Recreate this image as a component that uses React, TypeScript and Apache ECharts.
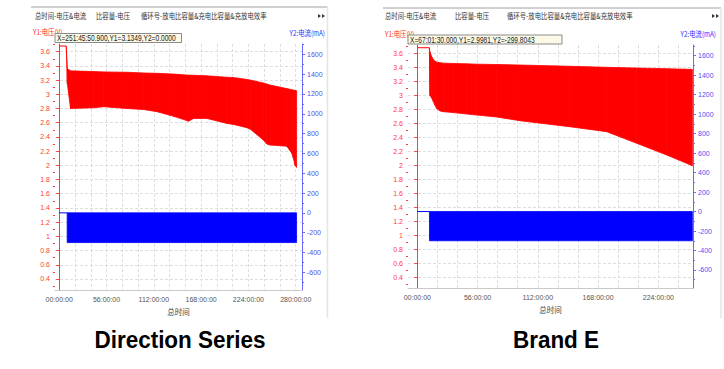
import React, { useEffect, useRef } from 'react';
import * as echarts from 'echarts';

// ---------- texts ----------
const TAB_LABELS = ['总时间-电压&电流', '比容量-电压', '循环号-放电比容量&充电比容量&充放电效率'];
const Y1_NAME = 'Y1:电压(V)';
const Y2_NAME = 'Y2:电流(mA)';
const X_NAME = '总时间';
const CAPTIONS = ['Direction Series', 'Brand E'];
const CURSOR_TEXTS = ['X=251:45:50.900,Y1=3.1349,Y2=0.0000', 'X=67:01:30.000,Y1=2.9981,Y2=-299.8043'];

// ---------- ticks ----------
const Y1_TICKS = [0.4, 0.6, 0.8, 1, 1.2, 1.4, 1.6, 1.8, 2, 2.2, 2.4, 2.6, 2.8, 3, 3.2, 3.4, 3.6];
const Y1_MINOR = [0.3, 0.5, 0.7, 0.9, 1.1, 1.3, 1.5, 1.7, 1.9, 2.1, 2.3, 2.5, 2.7, 2.9, 3.1, 3.3, 3.5, 3.7];
const Y2_TICKS = [-600, -400, -200, 0, 200, 400, 600, 800, 1000, 1200, 1400, 1600];
const Y2_MINOR = [-700, -500, -300, -100, 100, 300, 500, 700, 900, 1100, 1300, 1500, 1700];
const X_TICKS_A = [0, 56, 112, 168, 224, 280]; // hours
const X_TICKS_B = [0, 56, 112, 168, 224];
const X_GRID_STEP = 56 / 3;

// ---------- Direction Series (hours, V, mA) ----------
const A_REST_T = [0, 8.3];
const A_REST_V = [3.68, 3.68];
const A_T = [8.3, 9.6, 13.4, 40.9, 52.7, 80.3, 100, 115.8, 135.4, 151.2, 153.1, 159, 174.9, 198.5, 206.3, 222.1, 226, 241.7, 245.7, 249.6, 269.4, 275.3, 277.2, 279.2, 281];
const A_V_UP = [3.68, 3.36, 3.33, 3.32, 3.315, 3.31, 3.3, 3.295, 3.285, 3.27, 3.27, 3.268, 3.26, 3.24, 3.235, 3.21, 3.2, 3.16, 3.145, 3.13, 3.08, 3.065, 3.06, 3.055, 3.05];
const A_V_LO = [3.68, 3.15, 2.8, 2.81, 2.825, 2.8, 2.785, 2.755, 2.69, 2.63, 2.62, 2.66, 2.66, 2.59, 2.575, 2.53, 2.51, 2.355, 2.3, 2.285, 2.27, 2.17, 2.1, 2.0, 1.97];
const A_I_REST_T = [0, 9.4];
const A_I_REST = [0, 0];
const A_I_T = [9.4, 281];
const A_I_UP = [0, 0];
const A_I_LO = [-300, -300];

// ---------- Brand E ----------
const B_REST_T = [0, 11.2];
const B_REST_V = [3.68, 3.68];
const B_T = [11.2, 11.8, 13.4, 14.9, 16.4, 18, 21.1, 24.2, 33.5, 45.9, 55.2, 73.8, 95.4, 141.8, 176, 203.9, 231.8, 254.1, 255.6];
const B_V_UP = [3.68, 3.62, 3.55, 3.51, 3.49, 3.475, 3.465, 3.46, 3.455, 3.45, 3.445, 3.44, 3.433, 3.415, 3.4, 3.39, 3.38, 3.371, 3.37];
const B_V_LO = [3.68, 3.0, 2.96, 2.91, 2.86, 2.81, 2.776, 2.766, 2.753, 2.733, 2.719, 2.69, 2.637, 2.551, 2.48, 2.314, 2.147, 2.004, 1.99];
const B_I_REST_T = [0, 11.3];
const B_I_REST = [0, 0];
const B_I_T = [11.3, 255.6];
const B_I_UP = [0, 0];
const B_I_LO = [-300, -300];

const RED = '#ff0000';
const BLUE = '#0000ff';
const AX_RED = '#ff3a3a';
const AX_BLUE = '#6a6aff';
const GRID_C = '#dedede';
const FONT = '"Liberation Sans", Arial, sans-serif';
const CJK = '"Noto Sans CJK SC", sans-serif';

const PANELS = [
  {
    grid: { left: 55, top: 44, width: 247, height: 246 },
    x: [-5.0, 287.4], y1: [0.245, 3.708], y2: [-778.6, 1704],
    xTicks: X_TICKS_A, nameGap: 17,
    frame: { x0: 31, x1: 327.5, y: 7, bottom: 318 },
    tabX: [35, 96, 141], arrowX: 318, tabY: 16,
    y1Label: { x: 33, y: 32 }, y2Label: { x: 325, y: 33 },
    tip: { x: 55, y: 33.5, w: 126.5, h: 9 },
    caption: { x: 180, y: 340 },
  },
  {
    grid: { left: 408, top: 45, width: 285, height: 243 },
    x: [-8.64, 256.2], y1: [0.247, 3.719], y2: [-784.8, 1709.8],
    xTicks: X_TICKS_B, nameGap: 16,
    frame: { x0: 383, x1: 721, y: 8, bottom: 318 },
    tabX: [385, 455, 507], arrowX: 712, tabY: 16,
    y1Label: { x: 385, y: 34 }, y2Label: { x: 716, y: 34 },
    tip: { x: 408, y: 35, w: 154, h: 9 },
    caption: { x: 556, y: 340 },
  },
];

const SERIES_DATA = [
  { restT: A_REST_T, restV: A_REST_V, t: A_T, up: A_V_UP, lo: A_V_LO, iRestT: A_I_REST_T, iRest: A_I_REST, iT: A_I_T, iUp: A_I_UP, iLo: A_I_LO },
  { restT: B_REST_T, restV: B_REST_V, t: B_T, up: B_V_UP, lo: B_V_LO, iRestT: B_I_REST_T, iRest: B_I_REST, iT: B_I_T, iUp: B_I_UP, iLo: B_I_LO },
];

function band(xAxisIndex: number, yAxisIndex: number, t: number[], up: number[], lo: number[], color: string) {
  const data = t.map((x, i) => [x, up[i], lo[i]]);
  return {
    type: 'custom',
    xAxisIndex,
    yAxisIndex,
    silent: true,
    clip: true,
    encode: { x: 0, y: [1, 2] },
    data,
    renderItem: (params: any, api: any) => {
      const i = params.dataIndex;
      if (i >= data.length - 1) return { type: 'group', children: [] };
      const n = data[i + 1];
      const p1 = api.coord([api.value(0), api.value(1)]);
      const p2 = api.coord([n[0], n[1]]);
      const p3 = api.coord([n[0], n[2]]);
      const p4 = api.coord([api.value(0), api.value(2)]);
      return {
        type: 'polygon',
        shape: { points: [p1, p2, p3, p4] },
        style: { fill: color, stroke: color, lineWidth: 0.8 },
      };
    },
  };
}

function line(xAxisIndex: number, yAxisIndex: number, t: number[], v: number[], color: string) {
  return {
    type: 'line',
    xAxisIndex,
    yAxisIndex,
    silent: true,
    symbol: 'none',
    data: t.map((x, i) => [x, v[i]]),
    lineStyle: { color, width: 1 },
  };
}

function pad2(v: number) {
  const s = String(Math.round(v));
  return s.length < 2 ? '0' + s : s;
}

function buildOption() {
  const grids: any[] = [];
  const xAxes: any[] = [];
  const yAxes: any[] = [];
  const series: any[] = [];
  const graphics: any[] = [];

  PANELS.forEach((p, g) => {
    grids.push({ ...p.grid, containLabel: false });
    const grid: number[] = [];
    for (let v = 0; v <= p.x[1]; v += X_GRID_STEP) grid.push(+v.toFixed(4));
    xAxes.push({
      type: 'value', gridIndex: g, position: 'bottom', min: p.x[0], max: p.x[1],
      name: X_NAME, nameLocation: 'middle', nameGap: p.nameGap,
      nameTextStyle: { color: '#444', fontSize: 7.5, fontFamily: CJK },
      axisLine: { show: true, onZero: false, lineStyle: { color: '#c9c9c9', width: 1 } },
      axisTick: { show: false, customValues: grid },
      axisLabel: { customValues: p.xTicks, color: '#555', fontSize: 7, fontFamily: FONT, margin: 6, formatter: (v: number) => pad2(v) + ':00:00' },
      splitLine: { show: true, lineStyle: { color: GRID_C, type: [3, 2], width: 1 } },
    });
    const base = g * 4;
    yAxes.push({
      type: 'value', gridIndex: g, position: 'left', min: p.y1[0], max: p.y1[1],
      axisLine: { show: true, lineStyle: { color: AX_RED, width: 1 } },
      axisTick: { show: true, length: 3, customValues: Y1_TICKS, lineStyle: { color: AX_RED } },
      axisLabel: { customValues: Y1_TICKS, color: AX_RED, fontSize: 7, fontFamily: FONT, margin: 5, formatter: (v: number) => String(Math.round(v * 10) / 10) },
      splitLine: { show: true, lineStyle: { color: GRID_C, type: [3, 2], width: 1 } },
    });
    yAxes.push({
      type: 'value', gridIndex: g, position: 'right', min: p.y2[0], max: p.y2[1],
      axisLine: { show: true, lineStyle: { color: AX_BLUE, width: 1 } },
      axisTick: { show: true, length: 3, customValues: Y2_TICKS, lineStyle: { color: AX_BLUE } },
      axisLabel: { customValues: Y2_TICKS, color: '#5050ee', fontSize: 7, fontFamily: FONT, margin: 5, formatter: (v: number) => String(Math.round(v)) },
      splitLine: { show: false },
    });
    yAxes.push({
      type: 'value', gridIndex: g, position: 'left', min: p.y1[0], max: p.y1[1],
      axisLine: { show: false },
      axisTick: { show: true, length: 2, customValues: Y1_MINOR, lineStyle: { color: AX_RED } },
      axisLabel: { show: false }, splitLine: { show: false },
    });
    yAxes.push({
      type: 'value', gridIndex: g, position: 'right', min: p.y2[0], max: p.y2[1],
      axisLine: { show: false },
      axisTick: { show: true, length: 2, customValues: Y2_MINOR, lineStyle: { color: AX_BLUE } },
      axisLabel: { show: false }, splitLine: { show: false },
    });

    const d = SERIES_DATA[g];
    series.push(band(g, base + 1, d.iT, d.iUp, d.iLo, BLUE));
    series.push(line(g, base + 1, d.iRestT, d.iRest, BLUE));
    series.push(band(g, base, d.t, d.up, d.lo, RED));
    series.push(line(g, base, d.restT, d.restV, RED));

    // frame
    const f = p.frame;
    graphics.push({ type: 'line', shape: { x1: f.x0, y1: f.y, x2: f.x1, y2: f.y }, style: { stroke: '#a0a0a0', lineWidth: 1 } });
    graphics.push({ type: 'line', shape: { x1: f.x1, y1: f.y, x2: f.x1, y2: f.bottom }, style: { stroke: '#e4e4e4', lineWidth: 1.5 } });
    // tabs
    TAB_LABELS.forEach((t, i) => {
      graphics.push({
        type: 'text', x: p.tabX[i], y: p.tabY, scaleX: 0.85,
        style: { text: t, x: 0, y: 0, fill: '#333', fontSize: 7.5, fontFamily: CJK, verticalAlign: 'middle', align: 'left' },
      });
    });
    [0, 4].forEach((dx) => {
      graphics.push({ type: 'polygon', shape: { points: [[p.arrowX + dx, p.tabY - 2], [p.arrowX + dx + 3, p.tabY], [p.arrowX + dx, p.tabY + 2]] }, style: { fill: '#333' } });
    });
    // axis titles
    graphics.push({ type: 'text', x: p.y1Label.x, y: p.y1Label.y, scaleX: 0.85, style: { text: Y1_NAME, x: 0, y: 0, fill: '#ff2a2a', fontSize: 7.5, fontFamily: CJK, verticalAlign: 'middle', align: 'left' } });
    graphics.push({ type: 'text', x: p.y2Label.x, y: p.y2Label.y, scaleX: 0.85, style: { text: Y2_NAME, x: 0, y: 0, fill: '#3030ff', fontSize: 7.5, fontFamily: CJK, verticalAlign: 'middle', align: 'right' } });
    // cursor readout
    const tp = p.tip;
    graphics.push({ type: 'rect', shape: { x: tp.x, y: tp.y, width: tp.w, height: tp.h }, style: { fill: '#fcfae6', stroke: '#8a8a8a', lineWidth: 1 } });
    graphics.push({ type: 'text', x: tp.x + 2, y: tp.y + tp.h / 2 + 0.5, scaleX: 0.78, style: { text: CURSOR_TEXTS[g], x: 0, y: 0, fill: '#222', fontSize: 8.5, fontFamily: FONT, verticalAlign: 'middle', align: 'left' } });
    // caption
    graphics.push({ type: 'text', x: p.caption.x, y: p.caption.y, scaleY: 1.05, style: { text: CAPTIONS[g], x: 0, y: 0, fill: '#000', fontSize: 22.5, fontWeight: 'bold', fontFamily: FONT, align: 'center', verticalAlign: 'middle' } });
  });

  return {
    animation: false,
    backgroundColor: '#ffffff',
    grid: grids,
    xAxis: xAxes,
    yAxis: yAxes,
    series,
    graphic: { elements: graphics },
  };
}

export default function App() {
  const ref = useRef<HTMLDivElement>(null);
  useEffect(() => {
    if (!ref.current) return;
    const chart = echarts.init(ref.current, undefined, { renderer: 'svg' });
    chart.setOption(buildOption() as any);
    return () => chart.dispose();
  }, []);
  return <div ref={ref} style={{ position: 'fixed', left: 0, top: 0, width: 724, height: 369 }} />;
}
